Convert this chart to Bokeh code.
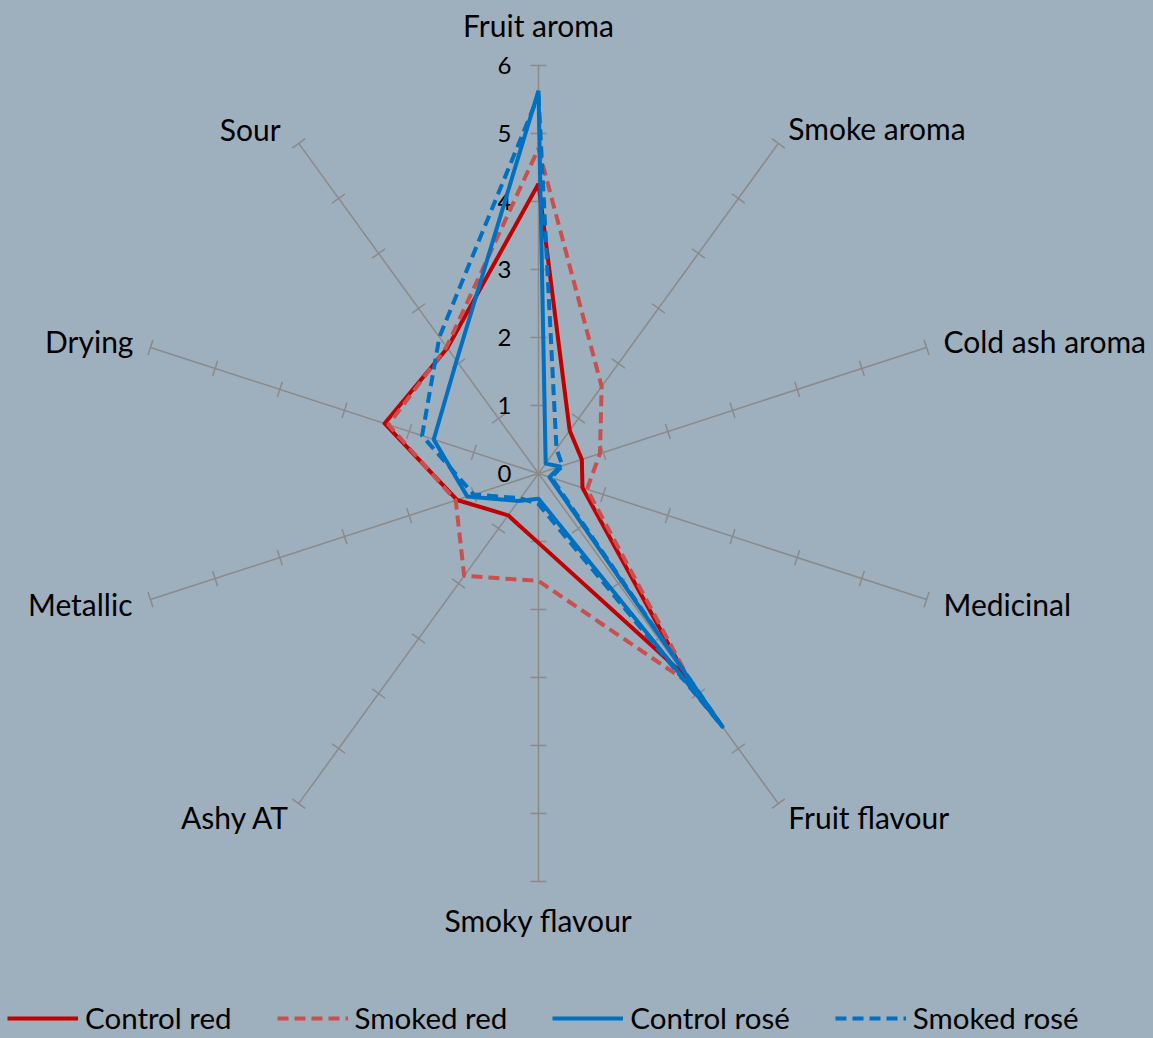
import numpy as np
from bokeh.plotting import figure
from bokeh.models import Range1d, Legend, LegendItem, ColumnDataSource
from bokeh.core.properties import value
from bokeh.embed import file_html
from bokeh.resources import INLINE

# ---------------- data ----------------
categories = ["Fruit aroma", "Smoke aroma", "Cold ash aroma", "Medicinal", "Fruit flavour",
              "Smoky flavour", "Ashy AT", "Metallic", "Drying", "Sour"]
control_red = [4.26, 0.78, 0.67, 0.68, 3.70, 1.02, 0.76, 1.26, 2.38, 2.28]
smoked_red = [4.78, 1.58, 0.95, 0.75, 3.85, 1.58, 1.86, 1.28, 2.32, 2.30]
control_rose = [5.63, 0.18, 0.33, 0.17, 4.60, 0.37, 0.50, 1.10, 1.62, 2.05]
smoked_rose = [5.56, 0.45, 0.37, 0.20, 4.60, 0.45, 0.45, 1.00, 1.80, 2.48]
series_names = ["Control red", "Smoked red", "Control rosé", "Smoked rosé"]
tick_values = [0, 1, 2, 3, 4, 5, 6]
tick_labels = ["0", "1", "2", "3", "4", "5", "6"]

# ---------------- layout / style ----------------
W, H = 1153, 1038
PX = 68.0            # pixels per unit
CX, CY = 538, 473    # centre of radar in figure pixels (from top-left)
BG = "#9EAFBE"
AXIS_COLOR = "#8A8A8A"
FONT = "Lato"
RMAX = tick_values[-1]

p = figure(width=W, height=H, output_backend="svg", toolbar_location=None,
           x_range=Range1d(-CX / PX, (W - CX) / PX),
           y_range=Range1d(-(H - CY) / PX, CY / PX),
           x_axis_type=None, y_axis_type=None, min_border=0,
           background_fill_color=BG, border_fill_color=BG, outline_line_color=None)
p.grid.visible = False

n = len(categories)
theta = np.pi / 2 - np.arange(n) * 2 * np.pi / n
cos_t, sin_t = np.cos(theta), np.sin(theta)

# spokes
p.segment(x0=np.zeros(n), y0=np.zeros(n), x1=RMAX * cos_t, y1=RMAX * sin_t,
          line_color=AXIS_COLOR, line_width=1.5)

# tick marks on every spoke
h = 8.0 / PX
tx0, ty0, tx1, ty1 = [], [], [], []
for c, s in zip(cos_t, sin_t):
    for k in tick_values[1:]:
        cx, cy = k * c, k * s
        tx0.append(cx - h * (-s)); ty0.append(cy - h * c)
        tx1.append(cx + h * (-s)); ty1.append(cy + h * c)
p.segment(x0=tx0, y0=ty0, x1=tx1, y1=ty1, line_color=AXIS_COLOR, line_width=1.5)

# tick labels on the top spoke
p.text(x=[0] * len(tick_values), y=tick_values, text=tick_labels, x_offset=-27,
       text_align="right", text_baseline="middle", text_font=value(FONT),
       text_font_size="24px", text_color="black")

# category labels
label_off = {  # x_offset, y_offset (screen px), alignment
    0: (0, -41, "center"), 1: (10, -15, "left"), 2: (17, -6, "left"), 3: (17, 4, "left"),
    4: (10, 13, "left"), 5: (0, 38, "center"), 6: (-9, 13, "right"), 7: (-18, 4, "right"),
    8: (-17, -6, "right"), 9: (-18, -14, "right"),
}
for align in ["center", "left", "right"]:
    idx = [i for i in range(n) if label_off[i][2] == align]
    src = ColumnDataSource(dict(
        x=[RMAX * cos_t[i] for i in idx], y=[RMAX * sin_t[i] for i in idx],
        t=[categories[i] for i in idx],
        xo=[label_off[i][0] for i in idx], yo=[label_off[i][1] for i in idx]))
    p.text(x="x", y="y", text="t", x_offset="xo", y_offset="yo", source=src,
           text_align=align, text_baseline="middle", text_font=value(FONT),
           text_font_size="30px", text_color="black")

# series
styles = [
    dict(line_color="#C00000", line_dash="solid"),
    dict(line_color="#C9504F", line_dash="11 6"),
    dict(line_color="#0070C0", line_dash="solid"),
    dict(line_color="#0070C0", line_dash="11 6"),
]
renderers = []
for vals, st in zip([control_red, smoked_red, control_rose, smoked_rose], styles):
    v = np.array(vals + vals[:1])
    xs = v * np.append(cos_t, cos_t[0])
    ys = v * np.append(sin_t, sin_t[0])
    r = p.line(xs, ys, line_width=4, line_join="round", **st)
    renderers.append(r)

legend = Legend(items=[LegendItem(label=nm, renderers=[r]) for nm, r in zip(series_names, renderers)],
                orientation="horizontal", location=(7, 3),
                glyph_width=71, glyph_height=30, label_height=30, label_standoff=7,
                spacing=45, padding=0, margin=0,
                label_text_font=FONT, label_text_font_size="29.5px", label_text_color="black",
                background_fill_alpha=0, border_line_alpha=0)
p.add_layout(legend)

html = file_html(p, INLINE)
html = html.replace("</head>",
                    "<style>html,body{margin:0;padding:0;overflow:hidden;background:%s;}</style></head>" % BG)
open("out.html", "w").write(html)
